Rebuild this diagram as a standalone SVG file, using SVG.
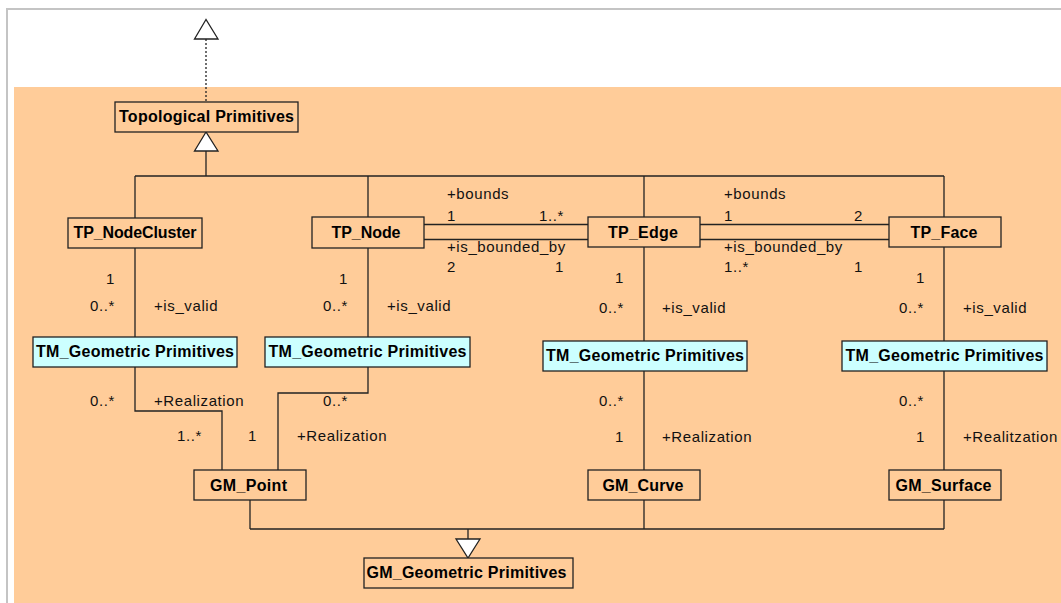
<svg xmlns="http://www.w3.org/2000/svg" width="1061" height="603" viewBox="0 0 1061 603">
  <style>
    .box { stroke: #222; stroke-width: 1.3; }
    .tp { fill: #ffcc99; }
    .tm { fill: #ccffff; }
    .name { font-family: "Liberation Sans", Arial, sans-serif; font-size: 16px; font-weight: bold; fill: #000; text-anchor: middle; }
    .lbl { font-family: "Liberation Sans", Arial, sans-serif; font-size: 15px; letter-spacing: 0.6px; fill: #111; }
    .wire { fill: none; stroke: #222; stroke-width: 1.3; }
    .head { fill: #fff; stroke: #222; stroke-width: 1.3; }
  </style>

  <!-- page frame and package area -->
  <rect x="0" y="0" width="1061" height="603" fill="#fff"/>
  <rect x="7" y="9" width="1100" height="700" fill="#fff" stroke="#c4c4c4" stroke-width="2"/>
  <rect x="14" y="87" width="1047" height="516" fill="#ffcc99"/>

  <!-- connectors -->
  <g id="connectors">
    <!-- realization of the package -->
    <line class="wire" x1="206" y1="39" x2="206" y2="102" stroke-dasharray="2 2"/>
    <polygon class="head" points="206,19.5 194.5,39 218,39"/>

    <!-- generalization to Topological Primitives -->
    <polygon class="head" points="206,132 194.5,151 218,151"/>
    <line class="wire" x1="206" y1="151" x2="206" y2="176"/>
    <line class="wire" x1="135" y1="176" x2="944" y2="176"/>
    <line class="wire" x1="135" y1="176" x2="135" y2="218"/>
    <line class="wire" x1="368" y1="176" x2="368" y2="217"/>
    <line class="wire" x1="644" y1="176" x2="644" y2="217"/>
    <line class="wire" x1="944" y1="176" x2="944" y2="217"/>

    <!-- bounds / is_bounded_by associations -->
    <line class="wire" x1="424" y1="224.5" x2="588" y2="224.5"/>
    <line class="wire" x1="424" y1="239.5" x2="588" y2="239.5"/>
    <line class="wire" x1="700" y1="224.5" x2="889" y2="224.5"/>
    <line class="wire" x1="700" y1="239.5" x2="889" y2="239.5"/>

    <!-- is_valid associations -->
    <line class="wire" x1="135" y1="248" x2="135" y2="337"/>
    <line class="wire" x1="368" y1="248" x2="368" y2="337"/>
    <line class="wire" x1="644" y1="247" x2="644" y2="341"/>
    <line class="wire" x1="944" y1="247" x2="944" y2="341"/>

    <!-- Realization associations -->
    <polyline class="wire" points="135,367 135,411 222,411 222,470"/>
    <polyline class="wire" points="368,367 368,393 278,393 278,470"/>
    <line class="wire" x1="644" y1="371" x2="644" y2="470"/>
    <line class="wire" x1="944" y1="371" x2="944" y2="470"/>

    <!-- generalization to GM_Geometric Primitives -->
    <line class="wire" x1="250" y1="500" x2="250" y2="529"/>
    <line class="wire" x1="644" y1="500" x2="644" y2="529"/>
    <line class="wire" x1="944" y1="500" x2="944" y2="529"/>
    <line class="wire" x1="250" y1="529" x2="944" y2="529"/>
    <line class="wire" x1="468" y1="529" x2="468" y2="539"/>
    <polygon class="head" points="456,539 480,539 468,558"/>
  </g>

  <!-- association labels -->
  <g id="labels">
    <text class="lbl" x="447" y="199">+bounds</text>
    <text class="lbl" x="447" y="221">1</text>
    <text class="lbl" x="539" y="221">1..*</text>
    <text class="lbl" x="447" y="252">+is_bounded_by</text>
    <text class="lbl" x="447" y="272">2</text>
    <text class="lbl" x="555" y="272">1</text>

    <text class="lbl" x="724" y="199">+bounds</text>
    <text class="lbl" x="724" y="221">1</text>
    <text class="lbl" x="854" y="221">2</text>
    <text class="lbl" x="724" y="252">+is_bounded_by</text>
    <text class="lbl" x="724" y="272">1..*</text>
    <text class="lbl" x="854" y="272">1</text>

    <text class="lbl" x="106" y="284">1</text>
    <text class="lbl" x="90" y="311">0..*</text>
    <text class="lbl" x="154" y="311">+is_valid</text>
    <text class="lbl" x="339" y="284">1</text>
    <text class="lbl" x="323" y="311">0..*</text>
    <text class="lbl" x="387" y="311">+is_valid</text>
    <text class="lbl" x="615" y="283">1</text>
    <text class="lbl" x="599" y="313">0..*</text>
    <text class="lbl" x="662" y="313">+is_valid</text>
    <text class="lbl" x="916" y="283">1</text>
    <text class="lbl" x="899" y="313">0..*</text>
    <text class="lbl" x="963" y="313">+is_valid</text>

    <text class="lbl" x="90" y="406">0..*</text>
    <text class="lbl" x="154" y="406">+Realization</text>
    <text class="lbl" x="177" y="441">1..*</text>
    <text class="lbl" x="248" y="441">1</text>
    <text class="lbl" x="323" y="406">0..*</text>
    <text class="lbl" x="297" y="441">+Realization</text>
    <text class="lbl" x="599" y="406">0..*</text>
    <text class="lbl" x="615" y="442">1</text>
    <text class="lbl" x="662" y="442">+Realization</text>
    <text class="lbl" x="899" y="406">0..*</text>
    <text class="lbl" x="916" y="442">1</text>
    <text class="lbl" x="963" y="442">+Realitzation</text>
  </g>

  <!-- classes -->
  <g id="topological-primitives">
    <rect class="box tp" x="115" y="102" width="183" height="30"/>
    <text class="name" x="206.5" y="122" textLength="175" lengthAdjust="spacing">Topological Primitives</text>
  </g>
  <g id="tp-nodecluster">
    <rect class="box tp" x="68" y="218" width="134" height="30"/>
    <text class="name" x="135" y="238" textLength="123" lengthAdjust="spacing">TP_NodeCluster</text>
  </g>
  <g id="tp-node">
    <rect class="box tp" x="312" y="217" width="112" height="31"/>
    <text class="name" x="366" y="237.5" textLength="69" lengthAdjust="spacing">TP_Node</text>
  </g>
  <g id="tp-edge">
    <rect class="box tp" x="588" y="217" width="112" height="30"/>
    <text class="name" x="643" y="237.5" textLength="70" lengthAdjust="spacing">TP_Edge</text>
  </g>
  <g id="tp-face">
    <rect class="box tp" x="889" y="217" width="112" height="30"/>
    <text class="name" x="944" y="237.5" textLength="67" lengthAdjust="spacing">TP_Face</text>
  </g>

  <g id="tm-geometric-1">
    <rect class="box tm" x="33" y="337" width="204" height="30"/>
    <text class="name" x="135" y="357" textLength="198" lengthAdjust="spacing">TM_Geometric Primitives</text>
  </g>
  <g id="tm-geometric-2">
    <rect class="box tm" x="265" y="337" width="205" height="30"/>
    <text class="name" x="367.5" y="357" textLength="198" lengthAdjust="spacing">TM_Geometric Primitives</text>
  </g>
  <g id="tm-geometric-3">
    <rect class="box tm" x="543" y="341" width="204" height="30"/>
    <text class="name" x="645" y="360.5" textLength="198" lengthAdjust="spacing">TM_Geometric Primitives</text>
  </g>
  <g id="tm-geometric-4">
    <rect class="box tm" x="842" y="341" width="205" height="30"/>
    <text class="name" x="944.5" y="360.5" textLength="198" lengthAdjust="spacing">TM_Geometric Primitives</text>
  </g>

  <g id="gm-point">
    <rect class="box tp" x="194" y="470" width="112" height="30"/>
    <text class="name" x="248.5" y="490.5" textLength="77" lengthAdjust="spacing">GM_Point</text>
  </g>
  <g id="gm-curve">
    <rect class="box tp" x="588" y="470" width="112" height="30"/>
    <text class="name" x="643" y="490.5" textLength="81" lengthAdjust="spacing">GM_Curve</text>
  </g>
  <g id="gm-surface">
    <rect class="box tp" x="889" y="470" width="112" height="30"/>
    <text class="name" x="943.5" y="490.5" textLength="96" lengthAdjust="spacing">GM_Surface</text>
  </g>
  <g id="gm-geometric-primitives">
    <rect class="box tp" x="364" y="558" width="209" height="30"/>
    <text class="name" x="466.5" y="578" textLength="200" lengthAdjust="spacing">GM_Geometric Primitives</text>
  </g>
</svg>
